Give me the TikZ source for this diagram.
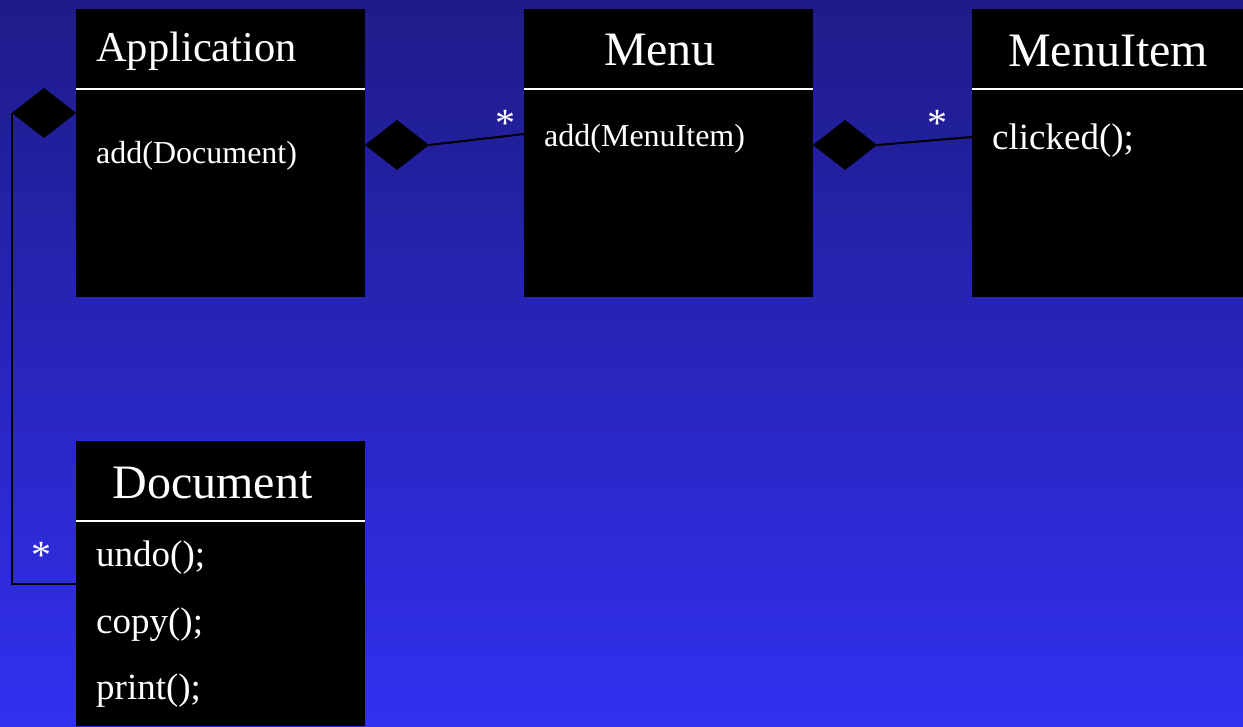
\documentclass[tikz,border=0pt]{standalone}
\usepackage{fontspec}
\setmainfont{Liberation Serif}
\usetikzlibrary{shapes.geometric}
\definecolor{bgtop}{RGB}{30,27,136}
\definecolor{bgbot}{RGB}{50,48,240}
\begin{document}
\begin{tikzpicture}[x=1pt,y=-1pt,
  classbox/.style={fill=black,draw=none,anchor=north west,inner sep=0pt,outer sep=0pt},
  sepline/.style={draw=white,line width=2pt},
  assoc/.style={draw=black,line width=2pt},
  owner/.style={diamond,fill=black,draw=none,inner sep=0pt,outer sep=0pt,
    minimum width=64pt,minimum height=50pt},
  titletext/.style={text=white,inner sep=0pt,anchor=base,font=\fontsize{48}{56}\selectfont},
  optext/.style={text=white,inner sep=0pt,anchor=base west,font=\fontsize{37}{44}\selectfont},
  smalltext/.style={text=white,inner sep=0pt,anchor=base west,font=\fontsize{32}{38}\selectfont},
  mult/.style={text=white,inner sep=0pt,anchor=center,font=\fontsize{40}{46}\selectfont}]

% background
\shade[top color=bgtop,bottom color=bgbot] (0,0) rectangle (1243,726);
\useasboundingbox (0,0) rectangle (1243,726);

% class boxes
\node[classbox,minimum width=289pt,minimum height=288pt] (app) at (76,9) {};
\node[classbox,minimum width=289pt,minimum height=288pt] (menu) at (524,9) {};
\node[classbox,minimum width=271pt,minimum height=288pt] (item) at (972,9) {};
\node[classbox,minimum width=289pt,minimum height=285pt] (doc) at (76,441) {};

% compartment separators
\draw[sepline] (app.west |- 0,89) -- (app.east |- 0,89);
\draw[sepline] (menu.west |- 0,89) -- (menu.east |- 0,89);
\draw[sepline] (item.west |- 0,89) -- (item.east |- 0,89);
\draw[sepline] (doc.west |- 0,521) -- (doc.east |- 0,521);

% class names
\node[titletext,anchor=base west,font=\fontsize{42.5}{50}\selectfont] (appname) at (96,61) {Application};
\node[titletext] (menuname) at (660,65) {Menu};
\node[titletext] (itemname) at (1108,66) {MenuItem};
\node[titletext] (docname) at (212.5,498) {Document};

% operations
\node[smalltext] (appop) at (96,163) {add(Document)};
\node[smalltext] (menuop) at (544,146) {add(MenuItem)};
\node[optext] (itemop) at (992,149) {clicked();};
\node[optext] (docundo) at (96,566) {undo();};
\node[optext] (doccopy) at (96,633) {copy();};
\node[optext] (docprint) at (96,699) {print();};

% composition diamonds
\node[owner] (dapp) at (44,113) {};
\node[owner] (dappmenu) at (397,145) {};
\node[owner] (dmenuitem) at (845,145) {};

% connector end points on the part classes
\coordinate (docend) at (doc.west |- 0,584);
\coordinate (menuend) at (menu.west |- 0,134);
\coordinate (itemend) at (item.west |- 0,137);

% connectors
\draw[assoc] (dapp.west) |- (docend);
\draw[assoc] (dappmenu.east) -- (menuend);
\draw[assoc] (dmenuitem.east) -- (itemend);

% multiplicities
\node[mult] (mdoc) at (41,555) {*};
\node[mult] (mmenu) at (505,123) {*};
\node[mult] (mitem) at (937,123) {*};
\end{tikzpicture}
\end{document}
